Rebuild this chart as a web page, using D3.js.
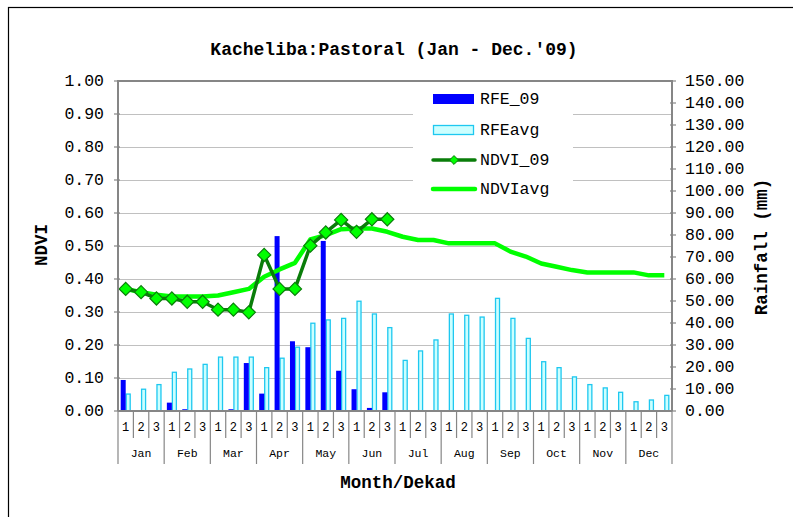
<!DOCTYPE html>
<html>
<head>
<meta charset="utf-8">
<script src="https://cdn.jsdelivr.net/npm/d3@7"></script>
<style>
body { margin: 0; background: #fff; }
svg text { font-family: "Liberation Mono", "Courier New", monospace; fill: #000; }
</style>
</head>
<body>
<svg id="chart" width="793" height="517"></svg>
<script>
// data
var months = ["Jan", "Feb", "Mar", "Apr", "May", "Jun", "Jul", "Aug", "Sep", "Oct", "Nov", "Dec"];
var dekads = ["1", "2", "3"];

// rainfall (mm), one value per dekad
var rfe09 = [14.1, 0, 0, 3.8, 0.8, 0, 0, 0.8, 21.8, 7.9, 79.5, 31.7, 29.0, 77.3, 18.3, 9.9, 1.4, 8.5,
             null, null, null, null, null, null, null, null, null, null, null, null, null, null, null, null, null, null];
var rfeAvg = [7.7, 9.9, 12.0, 17.6, 19.1, 21.2, 24.5, 24.5, 24.5, 19.7, 24.0, 29.0, 39.9, 41.4, 42.1, 49.9, 44.1, 37.9,
              23.0, 27.3, 32.3, 44.1, 43.5, 42.7, 51.2, 42.1, 33.0, 22.4, 19.7, 15.5, 12.0, 10.5, 8.5, 4.2, 5.0, 7.1];

// NDVI
var ndvi09 = [0.370, 0.360, 0.341, 0.341, 0.331, 0.331, 0.307, 0.307, 0.299, 0.473, 0.370, 0.370,
              0.501, 0.541, 0.579, 0.543, 0.581, 0.581];
var ndviAvg = [0.370, 0.360, 0.352, 0.347, 0.347, 0.347, 0.350, 0.360, 0.370, 0.407, 0.429, 0.449,
               0.520, 0.533, 0.551, 0.553, 0.553, 0.543, 0.528, 0.518, 0.518, 0.508, 0.508, 0.508,
               0.508, 0.483, 0.468, 0.447, 0.437, 0.427, 0.420, 0.420, 0.420, 0.420, 0.411, 0.411];

var ndviTicks = [0, 0.1, 0.2, 0.3, 0.4, 0.5, 0.6, 0.7, 0.8, 0.9, 1.0];
var rainTicks = [0, 10, 20, 30, 40, 50, 60, 70, 80, 90, 100, 110, 120, 130, 140, 150];

var legendKeys = ["RFE_09", "RFEavg", "NDVI_09", "NDVIavg"];

var axisGray = "#868686",
    gridGray = "#c0c0c0",
    blue = "#0000ff",
    cyanFill = "#ccffff",
    cyanLine = "#1ec8f0",
    darkGreen = "#0a7d0a",
    brightGreen = "#00ff00";

var svg = d3.select("svg#chart");

// outer chart frame (only left and top edge are inside the picture)
svg.append("rect")
    .attr("x", 8.5).attr("y", 7.5)
    .attr("width", 900).attr("height", 600)
    .attr("fill", "none").attr("stroke", "#000").attr("stroke-width", 1.2);

var plotLeft = 118, plotRight = 672, plotTop = 81, plotBottom = 411;

// categories: every dekad of every month
var cats = [];
months.forEach(function(m) { dekads.forEach(function(d) { cats.push(m + "-" + d); }); });

var x = d3.scaleBand().domain(cats).range([plotLeft, plotRight]).padding(0);
var xSub = d3.scaleBand().domain(["rfe09", "rfeAvg"]).range([0, x.bandwidth()])
    .paddingInner(0).paddingOuter(0.54);

var yN = d3.scaleLinear().domain([0, 1]).range([plotBottom, plotTop]);
var yR = d3.scaleLinear().domain([0, 150]).range([plotBottom, plotTop]);

// gridlines
svg.append("g").selectAll("line")
    .data(ndviTicks.slice(1, -1))
    .enter().append("line")
    .attr("x1", plotLeft).attr("x2", plotRight)
    .attr("y1", function(d) { return Math.round(yN(d)) + 0.5; })
    .attr("y2", function(d) { return Math.round(yN(d)) + 0.5; })
    .attr("stroke", gridGray).attr("stroke-width", 1.2);

// top border of plot area
svg.append("line")
    .attr("x1", plotLeft).attr("x2", plotRight)
    .attr("y1", plotTop).attr("y2", plotTop)
    .attr("stroke", axisGray).attr("stroke-width", 2);

// legend background hides gridlines behind it
svg.append("rect")
    .attr("x", 413).attr("y", plotTop + 1)
    .attr("width", 160).attr("height", 120)
    .attr("fill", "#fff");

// bars
var barG = svg.append("g");
barG.selectAll("rect.avg")
    .data(rfeAvg)
    .enter().append("rect")
    .attr("class", "avg")
    .attr("x", function(d, i) { return x(cats[i]) + xSub("rfeAvg") + 0.5; })
    .attr("width", xSub.bandwidth() - 1)
    .attr("y", function(d) { return yR(d); })
    .attr("height", function(d) { return yR(0) - yR(d); })
    .attr("fill", cyanFill).attr("stroke", cyanLine).attr("stroke-width", 1.3);

barG.selectAll("rect.rfe")
    .data(rfe09.map(function(v, i) { return {cat: cats[i], v: v}; })
        .filter(function(d) { return d.v != null && d.v > 0; }))
    .enter().append("rect")
    .attr("class", "rfe")
    .attr("x", function(d) { return x(d.cat) + xSub("rfe09"); })
    .attr("width", xSub.bandwidth())
    .attr("y", function(d) { return yR(d.v); })
    .attr("height", function(d) { return yR(0) - yR(d.v); })
    .attr("fill", blue);

// lines
var line = d3.line()
    .x(function(d, i) { return x(cats[i]) + x.bandwidth() / 2; })
    .y(function(d) { return yN(d); });

svg.append("path")
    .datum(ndviAvg)
    .attr("d", line)
    .attr("fill", "none")
    .attr("stroke", brightGreen)
    .attr("stroke-width", 4.5)
    .attr("stroke-linejoin", "round");

svg.append("path")
    .datum(ndvi09)
    .attr("d", line)
    .attr("fill", "none")
    .attr("stroke", darkGreen)
    .attr("stroke-width", 3.5)
    .attr("stroke-linejoin", "round");

var diamond = d3.symbol().type(d3.symbolDiamond2).size(110);
svg.append("g").selectAll("path")
    .data(ndvi09)
    .enter().append("path")
    .attr("d", diamond)
    .attr("transform", function(d, i) {
        return "translate(" + (x(cats[i]) + x.bandwidth() / 2) + "," + yN(d) + ")";
    })
    .attr("fill", brightGreen)
    .attr("stroke", darkGreen)
    .attr("stroke-width", 1.2);

// left axis
svg.append("line")
    .attr("x1", plotLeft).attr("x2", plotLeft).attr("y1", plotTop - 1).attr("y2", plotBottom)
    .attr("stroke", axisGray).attr("stroke-width", 2);
var lAx = svg.append("g");
lAx.selectAll("line")
    .data(ndviTicks)
    .enter().append("line")
    .attr("x1", plotLeft - 4).attr("x2", plotLeft + 2)
    .attr("y1", function(d) { return yN(d); }).attr("y2", function(d) { return yN(d); })
    .attr("stroke", axisGray).attr("stroke-width", 1.2);
lAx.selectAll("text")
    .data(ndviTicks)
    .enter().append("text")
    .attr("x", 104)
    .attr("y", function(d) { return yN(d) + 5; })
    .attr("text-anchor", "end")
    .style("font-size", "16.5px")
    .text(function(d) { return d3.format(".2f")(d); });

// right axis
svg.append("line")
    .attr("x1", plotRight).attr("x2", plotRight).attr("y1", plotTop - 1).attr("y2", plotBottom)
    .attr("stroke", axisGray).attr("stroke-width", 2);
var rAx = svg.append("g");
rAx.selectAll("line")
    .data(rainTicks)
    .enter().append("line")
    .attr("x1", plotRight - 2).attr("x2", plotRight + 4)
    .attr("y1", function(d) { return yR(d); }).attr("y2", function(d) { return yR(d); })
    .attr("stroke", axisGray).attr("stroke-width", 1.2);
rAx.selectAll("text")
    .data(rainTicks)
    .enter().append("text")
    .attr("x", 685)
    .attr("y", function(d) { return yR(d) + 5; })
    .style("font-size", "16.5px")
    .text(function(d) { return d3.format(".2f")(d); });

// bottom axis: dekad and month rows
svg.append("line")
    .attr("x1", plotLeft).attr("x2", plotRight).attr("y1", plotBottom).attr("y2", plotBottom)
    .attr("stroke", axisGray).attr("stroke-width", 2);
var bAx = svg.append("g");
bAx.selectAll("line")
    .data(d3.range(cats.length + 1))
    .enter().append("line")
    .attr("x1", function(i) { return i < cats.length ? x(cats[i]) : plotRight; })
    .attr("x2", function(i) { return i < cats.length ? x(cats[i]) : plotRight; })
    .attr("y1", plotBottom)
    .attr("y2", function(i) { return i % 3 == 0 ? 464 : 438; })
    .attr("stroke", axisGray).attr("stroke-width", 1.2);
bAx.selectAll("text.dek")
    .data(cats)
    .enter().append("text")
    .attr("class", "dek")
    .attr("x", function(d) { return x(d) + x.bandwidth() / 2; })
    .attr("y", 431)
    .attr("text-anchor", "middle")
    .style("font-size", "12px")
    .text(function(d) { return d.split("-")[1]; });
bAx.selectAll("text.mon")
    .data(months)
    .enter().append("text")
    .attr("class", "mon")
    .attr("x", function(d) { return x(d + "-2") + x.bandwidth() / 2; })
    .attr("y", 457)
    .attr("text-anchor", "middle")
    .style("font-size", "11.5px")
    .text(function(d) { return d; });

// titles
svg.append("text")
    .attr("x", 394).attr("y", 55)
    .attr("text-anchor", "middle")
    .style("font-size", "18px").style("font-weight", "bold")
    .text("Kacheliba:Pastoral (Jan - Dec.'09)");

svg.append("text")
    .attr("x", 398).attr("y", 488)
    .attr("text-anchor", "middle")
    .style("font-size", "17.5px").style("font-weight", "bold")
    .text("Month/Dekad");

svg.append("text")
    .attr("transform", "translate(47,245) rotate(-90)")
    .attr("text-anchor", "middle")
    .style("font-size", "17.5px").style("font-weight", "bold")
    .text("NDVI");

svg.append("text")
    .attr("transform", "translate(767,247) rotate(-90)")
    .attr("text-anchor", "middle")
    .style("font-size", "17.5px").style("font-weight", "bold")
    .text("Rainfall (mm)");

// legend
var legend = svg.append("g").selectAll(".legend")
    .data(legendKeys)
    .enter().append("g")
    .attr("class", "legend")
    .attr("transform", function(d, i) { return "translate(433," + [99, 130, 160, 189][i] + ")"; });

legend.each(function(d) {
    var g = d3.select(this);
    if (d == "RFE_09") {
        g.append("rect").attr("x", 0).attr("y", -5).attr("width", 41).attr("height", 10).attr("fill", blue);
    } else if (d == "RFEavg") {
        g.append("rect").attr("x", 0.5).attr("y", -4.5).attr("width", 40).attr("height", 9)
            .attr("fill", cyanFill).attr("stroke", cyanLine).attr("stroke-width", 1.3);
    } else if (d == "NDVI_09") {
        g.append("line").attr("x1", 0).attr("x2", 42).attr("y1", 0).attr("y2", 0)
            .attr("stroke", darkGreen).attr("stroke-width", 3.5).attr("stroke-linecap", "round");
        g.append("path").attr("d", d3.symbol().type(d3.symbolDiamond2).size(50))
            .attr("transform", "translate(21,0)")
            .attr("fill", brightGreen).attr("stroke", darkGreen).attr("stroke-width", 1);
    } else {
        g.append("line").attr("x1", 0).attr("x2", 42).attr("y1", 0).attr("y2", 0)
            .attr("stroke", brightGreen).attr("stroke-width", 4.5).attr("stroke-linecap", "round");
    }
    g.append("text")
        .attr("x", 47).attr("y", 5)
        .style("font-size", "16.5px")
        .text(d);
});
</script>
</body>
</html>
